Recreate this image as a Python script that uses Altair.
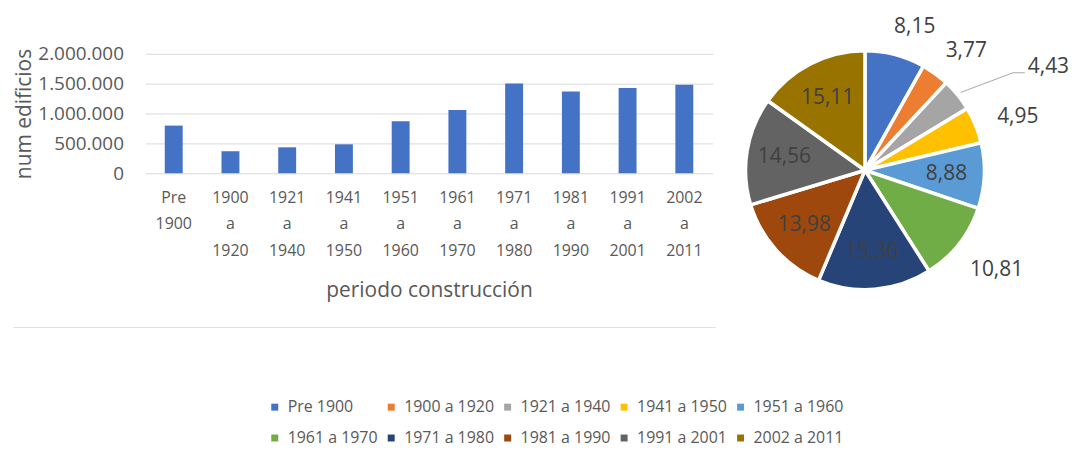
import altair as alt
import pandas as pd

# ---- data ----
periodos = ["Pre 1900", "1900 a 1920", "1921 a 1940", "1941 a 1950", "1951 a 1960",
            "1961 a 1970", "1971 a 1980", "1981 a 1990", "1991 a 2001", "2002 a 2011"]
edificios = [798000, 369000, 434000, 485000, 870000,
             1059000, 1505000, 1370000, 1427000, 1481000]
porcentajes = [8.15, 3.77, 4.43, 4.95, 8.88, 10.81, 15.36, 13.98, 14.56, 15.11]
colores = ["#4472C4", "#ED7D31", "#A5A5A5", "#FFC000", "#5B9BD5",
           "#70AD47", "#264478", "#9E480E", "#636363", "#997300"]
y_ticks = [0, 500000, 1000000, 1500000, 2000000]
etiquetas_dentro = ["1951 a 1960", "1971 a 1980", "1981 a 1990", "1991 a 2001", "2002 a 2011"]
etiqueta_guia = "1921 a 1940"

FONT = "Open Sans"
GRAY = "#595959"
DARK = "#404040"

df_bar = pd.DataFrame({"periodo": periodos, "edificios": edificios})
df_pie = pd.DataFrame({"periodo": periodos, "pct": porcentajes,
                       "orden": list(range(len(periodos)))})
df_pie["texto"] = [f"{v:.2f}".replace(".", ",") for v in porcentajes]

BAR_W, BAR_H = 570, 120
PIE_W, PIE_H = 280, 234
R = 120
CX, CY = PIE_W / 2, PIE_H / 2

# ---- bar chart ----
bars = alt.Chart(df_bar).mark_bar(color="#4472C4", size=18).encode(
    x=alt.X("periodo:N", sort=periodos, title="periodo construcción",
            scale=alt.Scale(paddingInner=0.0, paddingOuter=0.0),
            axis=alt.Axis(labelExpr="split(datum.label, ' ')", labelAngle=0,
                          labelFontSize=16, labelLineHeight=27, labelPadding=16,
                          labelColor=GRAY, labelFont=FONT, ticks=False, domain=False,
                          titleFontSize=21, titleFont=FONT, titleColor=GRAY,
                          titleFontWeight="normal", titlePadding=21)),
    y=alt.Y("edificios:Q", scale=alt.Scale(domain=[0, 2000000]), title="num edificios",
            axis=alt.Axis(values=y_ticks,
                          labelExpr="replace(replace(format(datum.value, ','), ',', '.'), ',', '.')",
                          labelFontSize=19, labelFont=FONT, labelColor=GRAY, labelPadding=22,
                          grid=True, gridColor="#d9d9d9", domain=False, ticks=False,
                          titleFontSize=21, titleFont=FONT, titleColor=GRAY,
                          titleFontWeight="normal", titlePadding=3)),
)

border = alt.Chart(df_bar).mark_rule(color="#e0e0e0", strokeWidth=1).encode(
    x=alt.value(-132), x2=alt.value(573), y=alt.value(275)
)

bar_chart = alt.layer(bars, border).properties(width=BAR_W, height=BAR_H)

# ---- pie chart ----
base = alt.Chart(df_pie).encode(
    theta=alt.Theta("pct:Q", stack=True),
    order=alt.Order("orden:Q"),
)

arcs = base.mark_arc(outerRadius=R, stroke="white", strokeWidth=3.5).encode(
    color=alt.Color("periodo:N", sort=periodos,
                    scale=alt.Scale(domain=periodos, range=colores),
                    legend=alt.Legend(title=None, orient="none", legendX=122, legendY=347,
                                      direction="horizontal", columns=5,
                                      symbolType="square", symbolSize=49,
                                      symbolStrokeWidth=0, labelOffset=5,
                                      labelFontSize=16, labelFont=FONT, labelColor=GRAY,
                                      columnPadding=5, rowPadding=15))
)

dentro = alt.FieldOneOfPredicate(field="periodo", oneOf=etiquetas_dentro)
fuera = alt.FieldOneOfPredicate(field="periodo",
                                oneOf=[p for p in periodos
                                       if p not in etiquetas_dentro and p != etiqueta_guia])

txt_in = base.mark_text(radius=82, fontSize=21, font=FONT, color=DARK).encode(
    text=alt.condition(dentro, "texto:N", alt.value(""))
)
txt_out = base.mark_text(radius=154, dx=11, dy=5, fontSize=21, font=FONT, color=DARK).encode(
    text=alt.condition(fuera, "texto:N", alt.value(""))
)

lead_base = alt.Chart(df_pie).transform_window(
    acum="sum(pct)", sort=[alt.SortField("orden")], frame=[None, 0]
).transform_calculate(
    ang="(datum.acum - datum.pct / 2) / 100 * 2 * PI"
).transform_filter(
    alt.datum.periodo == etiqueta_guia
).transform_calculate(
    x1=f"{CX} + {R + 4} * sin(datum.ang)",
    y1=f"{CY} - {R + 4} * cos(datum.ang)",
    x2=f"{CX} + 178 * sin(datum.ang + 0.1)",
    y2=f"{CY} - 178 * cos(datum.ang + 0.1)",
).transform_calculate(
    x3="datum.x2 + 12"
)

lead1 = lead_base.mark_rule(color="#a6a6a6", strokeWidth=1).encode(
    x=alt.X("x1:Q", scale=None), y=alt.Y("y1:Q", scale=None),
    x2="x2:Q", y2="y2:Q")
lead2 = lead_base.mark_rule(color="#a6a6a6", strokeWidth=1).encode(
    x=alt.X("x2:Q", scale=None), y=alt.Y("y2:Q", scale=None),
    x2="x3:Q", y2="y2:Q")
lead_txt = lead_base.mark_text(fontSize=21, font=FONT, color=DARK, align="left",
                               baseline="middle", dx=3, dy=-6).encode(
    x=alt.X("x3:Q", scale=None), y=alt.Y("y2:Q", scale=None), text="texto:N")

pie_chart = alt.layer(arcs, txt_in, txt_out, lead1, lead2, lead_txt).properties(
    width=PIE_W, height=PIE_H)

chart = alt.hconcat(bar_chart, pie_chart, spacing=13, bounds="flush").properties(
    padding={"left": 5, "top": 7, "right": 0, "bottom": 0},
    background="white",
).configure_view(strokeWidth=0, stroke="transparent")

chart.save("out.html", embed_options={"renderer": "svg", "actions": False})
